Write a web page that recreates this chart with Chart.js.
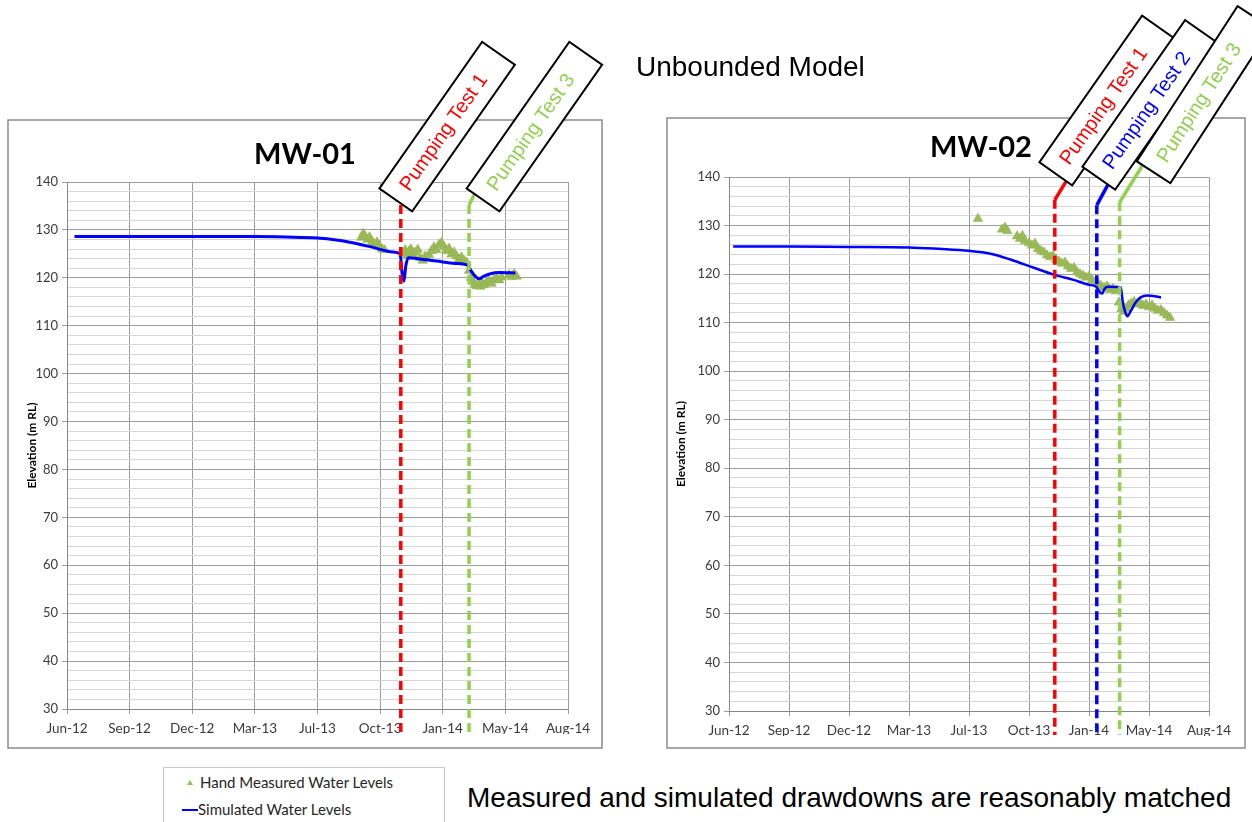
<!DOCTYPE html>
<html>
<head>
<meta charset="utf-8">
<title>Unbounded Model</title>
<script src="https://cdn.jsdelivr.net/npm/chart.js@4.4.1/dist/chart.umd.min.js"></script>
<style>
  html, body { margin: 0; padding: 0; background: #fff; }
  body { width: 1252px; height: 822px; position: relative; overflow: hidden; font-family: "Liberation Sans", Arial, sans-serif; }
  .panel { position: absolute; top: 0; width: 626px; height: 760px; }
  #heading { position: absolute; left: 636px; top: 51px; font-size: 28px; color: #000; z-index: 2; }
  #note { position: absolute; left: 467px; top: 782px; font-size: 28px; color: #000; white-space: nowrap; }
  #legend { position: absolute; left: 163px; top: 767px; width: 280px; height: 70px; border: 1px solid #c8c8c8; font-family: Lato, sans-serif; font-size: 15px; color: #262626; }
  #legend .item { position: absolute; white-space: nowrap; }
  #legend .tri { position: absolute; width: 0; height: 0; border-left: 3px solid transparent; border-right: 3px solid transparent; border-bottom: 5px solid #9bbb59; }
  #legend .line { position: absolute; height: 2px; background: #0000ff; }
</style>
</head>
<body>
<div id="heading">Unbounded Model</div>
<div class="panel" style="left:0"><canvas id="mw01"></canvas></div>
<div class="panel" style="left:626px"><canvas id="mw02"></canvas></div>
<div id="legend">
  <span class="tri" style="left:23px; top:12px"></span>
  <span class="item" style="left:36px; top:5px">Hand Measured Water Levels</span>
  <span class="line" style="left:18px; top:41px; width:16px"></span>
  <span class="item" style="left:34px; top:32px">Simulated Water Levels</span>
</div>
<div id="note">Measured and simulated drawdowns are reasonably matched</div>

<script>
// x axis: days since 1 Jun 2012, a tick every 100 days
const xTickLabels = ['Jun-12', 'Sep-12', 'Dec-12', 'Mar-13', 'Jul-13', 'Oct-13', 'Jan-14', 'May-14', 'Aug-14'];
const xTickStep = 100;
const yMin = 30;
const yMax = 140;

const pumpTestNames = ['Pumping Test 1', 'Pumping Test 2', 'Pumping Test 3'];
const mw01TestDays = [533, null, 642];
const mw02TestDays = [543, 613, 651];

// MW-01
const mw01MeasuredDays = [470, 473, 476, 480, 483, 487, 491, 495, 499, 503, 507,
  537, 540, 543, 546, 549, 552, 556, 560, 564, 568, 572,
  578, 582, 586, 590, 594, 598, 602, 606, 610, 614, 618, 622, 626, 630, 634, 638,
  642, 645, 648, 651, 654, 657, 660, 663, 666, 670, 674, 678, 682, 686, 690, 694,
  706, 710, 714, 718];
const mw01MeasuredLevels = [128.4, 129.2, 128.6, 128.0, 128.5, 127.5, 127.0, 127.4, 126.6, 126.0, 125.8,
  125.0, 125.8, 124.6, 125.5, 126.0, 124.8, 125.3, 125.9, 124.2, 123.6, 124.5,
  124.8, 125.6, 126.4, 125.8, 126.9, 127.3, 126.5, 125.6, 126.1, 124.9, 125.3, 124.5, 123.9, 124.3, 123.6, 123.2,
  121.5, 120.0, 119.2, 118.6, 118.3, 118.7, 118.2, 118.9, 118.5, 119.0, 119.3, 118.8, 119.6, 119.9, 119.5, 120.1,
  120.6, 120.2, 120.8, 120.3];
const mw01SimDays = [12, 100, 200, 300, 350, 400, 430, 460, 490, 520, 532, 535, 538, 541, 545, 560, 590, 620, 640, 645, 652, 658, 665, 675, 690, 716];
const mw01SimLevels = [128.6, 128.6, 128.6, 128.6, 128.5, 128.3, 127.9, 127.2, 126.3, 125.4, 125.0, 121.0, 119.3, 122.5, 124.2, 124.0, 123.5, 123.0, 122.6, 121.5, 120.3, 119.8, 120.3, 120.8, 121.1, 121.0];

// MW-02
const mw02MeasuredDays = [415, 455, 460, 464, 480, 485, 489, 493, 500,
  505, 510, 515, 520, 525, 530, 535, 540, 545, 550, 555, 560, 565, 570, 575, 580, 585, 590, 595, 600, 605, 610, 615, 620, 625, 630, 635, 640, 645, 650,
  654, 658, 662, 666, 670,
  675, 680, 685, 690, 695, 700, 705, 710, 715, 720, 725, 730, 735];
const mw02MeasuredLevels = [131.4, 129.2, 129.6, 128.9, 127.8, 127.3, 127.9, 126.8, 126.4,
  125.9, 126.3, 125.2, 124.8, 124.5, 123.9, 123.5, 123.8, 123.0, 122.6, 122.2, 122.4, 121.6, 121.1, 121.3, 120.4, 120.0, 119.7, 119.3, 119.5, 118.8, 118.3, 118.0, 117.6, 117.2, 117.5, 116.8, 117.0, 116.5, 114.2,
  112.8, 112.3, 112.9, 113.6, 113.9,
  114.3, 113.8, 114.1, 113.5, 113.8, 113.2, 113.6, 112.9, 112.5, 112.6, 112.0, 111.5, 111.0];
const mw02SimDays = [7, 100, 200, 300, 350, 400, 436, 469, 508, 541, 574, 600, 612, 618, 622, 626, 632, 653, 656, 660, 664, 670, 678, 686, 697, 720];
const mw02SimLevels = [125.7, 125.7, 125.6, 125.5, 125.2, 124.8, 124.2, 123.0, 121.3, 119.9, 118.8, 117.8, 117.4, 116.3, 116.0, 117.0, 117.4, 117.3, 114.5, 112.3, 111.3, 112.5, 114.2, 115.2, 115.6, 115.2];

const testColors = ['#ff0000', '#0000ff', '#92d050'];
const MAJOR = '#9d9d9d';
const MINOR = '#d6d6d6';

function toPoints(days, levels) {
    return days.map((d, i) => ({ x: d, y: levels[i] }));
}

// Panel frame, chart title, pumping test markers with their rotated callouts
const pumpTestPlugin = {
    id: 'pumpTests',
    beforeDraw(chart, args, opts) {
        const ctx = chart.ctx;
        const p = opts.panel;
        ctx.save();
        ctx.fillStyle = '#fff';
        ctx.fillRect(p.x, p.y, p.w, p.h);
        ctx.strokeStyle = '#8a8a8a';
        ctx.lineWidth = 1.5;
        ctx.strokeRect(p.x, p.y, p.w, p.h);
        ctx.fillStyle = '#000';
        ctx.font = 'bold 29px Lato';
        ctx.textAlign = 'center';
        ctx.textBaseline = 'middle';
        ctx.fillText(opts.title, opts.titleX, opts.titleY);
        ctx.restore();
    },
    afterDatasetsDraw(chart, args, opts) {
        const { ctx, chartArea } = chart;
        const x = chart.scales.x;
        const y = chart.scales.y;
        opts.events.forEach(ev => {
            const color = testColors[ev.test];
            const px = x.getPixelForValue(opts.testDays[ev.test]);
            const top = y.getPixelForValue(ev.top);
            ctx.save();
            ctx.strokeStyle = color;
            ctx.lineWidth = 3.5;
            ctx.setLineDash([9, 5]);
            ctx.beginPath();
            ctx.moveTo(px, top);
            ctx.lineTo(px, chartArea.bottom + 24);
            ctx.stroke();
            ctx.setLineDash([]);
            ctx.beginPath();
            ctx.moveTo(px, top);
            ctx.lineTo(px + ev.leader[0], top + ev.leader[1]);
            ctx.stroke();

            ctx.translate(px + ev.box[0], top + ev.box[1]);
            ctx.rotate(-ev.angle * Math.PI / 180);
            ctx.fillStyle = '#fff';
            ctx.fillRect(0, -20, ev.len, 40);
            ctx.strokeStyle = '#000';
            ctx.lineWidth = 2;
            ctx.strokeRect(0, -20, ev.len, 40);
            ctx.fillStyle = color;
            ctx.font = '20px "Liberation Sans", Arial';
            ctx.textAlign = 'left';
            ctx.textBaseline = 'middle';
            ctx.fillText(pumpTestNames[ev.test], 14, 1);
            ctx.restore();
        });
    }
};

function makeChart(id, measured, simulated, layout, plugOpts) {
    const canvas = document.getElementById(id);
    canvas.width = 626;
    canvas.height = 760;
    return new Chart(canvas, {
        type: 'scatter',
        data: {
            datasets: [{
                label: 'Simulated Water Levels',
                data: simulated,
                showLine: true,
                borderColor: '#0000ff',
                borderWidth: layout.lineWidth,
                pointRadius: 0,
                cubicInterpolationMode: 'monotone'
            }, {
                label: 'Hand Measured Water Levels',
                data: measured,
                pointStyle: 'triangle',
                pointRadius: 5.5,
                backgroundColor: '#9bbb59',
                borderColor: '#8fae4f',
                borderWidth: 0.5
            }]
        },
        options: {
            responsive: false,
            animation: false,
            layout: { padding: layout.padding },
            plugins: {
                legend: { display: false },
                tooltip: { enabled: false },
                pumpTests: plugOpts
            },
            scales: {
                x: {
                    type: 'linear',
                    min: 0,
                    max: xTickStep * (xTickLabels.length - 1),
                    afterFit(scale) { scale.height = 25; },
                    ticks: {
                        stepSize: xTickStep,
                        autoSkip: false,
                        maxRotation: 0,
                        padding: 7,
                        color: '#3a3a3a',
                        font: { family: 'Lato', size: 13.5 },
                        callback: v => xTickLabels[Math.round(v / xTickStep)]
                    },
                    grid: { color: MAJOR, tickColor: MAJOR, tickLength: 5 },
                    border: { color: '#868686' }
                },
                y: {
                    min: yMin,
                    max: yMax,
                    afterFit(scale) { scale.width = layout.yWidth; },
                    title: {
                        display: true,
                        text: 'Elevation (m RL)',
                        color: '#000',
                        font: { family: 'Lato', size: 12, weight: 'bold' },
                        padding: { top: 3, bottom: 0 }
                    },
                    ticks: {
                        stepSize: 2,
                        autoSkip: false,
                        padding: 4,
                        color: '#3a3a3a',
                        font: { family: 'Lato', size: 13 },
                        callback: v => (Math.round(v) % 10 === 0 ? String(Math.round(v)) : '')
                    },
                    grid: {
                        color: c => (c.tick && Math.round(c.tick.value) % 10 === 0 ? MAJOR : MINOR),
                        tickColor: c => (c.tick && Math.round(c.tick.value) % 10 === 0 ? MAJOR : 'rgba(0,0,0,0)'),
                        tickLength: 5
                    },
                    border: { color: '#868686' }
                }
            }
        },
        plugins: [pumpTestPlugin]
    });
}

makeChart('mw01',
    toPoints(mw01MeasuredDays, mw01MeasuredLevels),
    toPoints(mw01SimDays, mw01SimLevels),
    { padding: { left: 22, right: 58, top: 182, bottom: 26 }, yWidth: 45, lineWidth: 3 },
    {
        title: 'MW-01', titleX: 305, titleY: 155,
        panel: { x: 8, y: 120, w: 594, h: 628 },
        testDays: mw01TestDays,
        events: [
            { test: 0, top: 135.2, box: [-5, -5], leader: [0, 0], angle: 55, len: 179 },
            { test: 2, top: 135.2, box: [14, -5], leader: [6, -12], angle: 55, len: 179 }
        ]
    });

makeChart('mw02',
    toPoints(mw02MeasuredDays, mw02MeasuredLevels),
    toPoints(mw02SimDays, mw02SimLevels),
    { padding: { left: 45, right: 43, top: 177, bottom: 24 }, yWidth: 58, lineWidth: 2.5 },
    {
        title: 'MW-02', titleX: 355, titleY: 148,
        panel: { x: 41, y: 118, w: 578, h: 630 },
        testDays: mw02TestDays,
        events: [
            { test: 0, top: 135.3, box: [1, -26], leader: [11, -18], angle: 55, len: 179 },
            { test: 1, top: 134.2, box: [2, -27], leader: [12, -22], angle: 55, len: 179 },
            { test: 2, top: 134.8, box: [34, -30], leader: [23, -37], angle: 57, len: 185 }
        ]
    });
</script>
</body>
</html>
